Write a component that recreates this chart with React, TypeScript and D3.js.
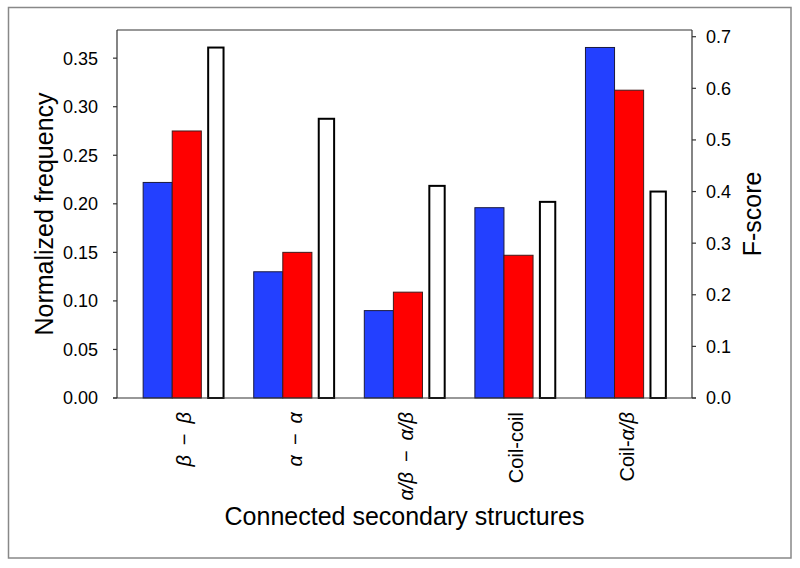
import React from "react";
import * as d3 from "d3";

const categories = ["b-b", "a-a", "ab-ab", "coil-coil", "coil-ab"];
// label pieces: [text, italic]
const categoryLabels: [string, boolean][][] = [
  [["β", true], ["\u2002−\u2002", false], ["β", true]],
  [["α", true], ["\u2002−\u2002", false], ["α", true]],
  [["α/β", true], ["\u2002−\u2002", false], ["α/β", true]],
  [["Coil-coil", false]],
  [["Coil-", false], ["α/β", true]],
];
const freqBlue = [0.222, 0.13, 0.09, 0.196, 0.361];
const freqRed = [0.275, 0.15, 0.109, 0.147, 0.317];
const fScore = [0.679, 0.541, 0.411, 0.38, 0.4];
const leftTicks = [0, 0.05, 0.1, 0.15, 0.2, 0.25, 0.3, 0.35];
const rightTicks = [0, 0.1, 0.2, 0.3, 0.4, 0.5, 0.6, 0.7];

const W = 800;
const H = 568;
const PL = 117;
const PR = 692;
const PT = 30;
const PB = 398;
const FONT = "'Liberation Sans', Arial, sans-serif";

export default function App() {
  const x = d3.scalePoint<string>().domain(categories).range([PL, PR]).padding(0.6);
  const step = x.step();
  const yL = d3.scaleLinear().domain([0, 0.379]).range([PB, PT]);
  const yR = d3.scaleLinear().domain([0, 0.713]).range([PB, PT]);
  const fmtL = d3.format(".2f");
  const fmtR = d3.format(".1f");

  const bw = step * 0.263;
  const blueX0 = -step * 0.3635;
  const redX0 = blueX0 + bw;
  const whiteW = step * 0.139;
  const whiteX0 = step * 0.3635 - whiteW;

  return (
    <svg
      width={W}
      height={H}
      style={{ position: "absolute", left: 0, top: 0, background: "#fff" }}
      fontFamily={FONT}
    >
      <rect x={8.5} y={7.5} width={782.5} height={550.5} fill="#fff" stroke="#888" strokeWidth={1.5} />

      {categories.map((c, i) => {
        const cx = x(c)!;
        return (
          <g key={c}>
            <rect
              x={cx + blueX0}
              y={yL(freqBlue[i])}
              width={bw}
              height={PB - yL(freqBlue[i])}
              fill="#2340ff"
              stroke="#1a1a40"
              strokeWidth={1}
            />
            <rect
              x={cx + redX0}
              y={yL(freqRed[i])}
              width={bw}
              height={PB - yL(freqRed[i])}
              fill="#ff0000"
              stroke="#401a1a"
              strokeWidth={1}
            />
            <rect
              x={cx + whiteX0}
              y={yR(fScore[i])}
              width={whiteW}
              height={PB - yR(fScore[i])}
              fill="#fff"
              stroke="#000"
              strokeWidth={2}
            />
          </g>
        );
      })}

      <line x1={PL} x2={PR} y1={PT} y2={PT} stroke="#333" strokeWidth={1.2} />
      <line x1={PL} x2={PL} y1={PT} y2={PB} stroke="#333" strokeWidth={1.2} />
      <line x1={PR} x2={PR} y1={PT} y2={PB} stroke="#333" strokeWidth={1.2} />
      <line x1={PL - 4} x2={PR + 4} y1={PB} y2={PB} stroke="#333" strokeWidth={1.2} />

      {leftTicks.map((t) => (
        <g key={"l" + t}>
          <line x1={PL - 4} x2={PL} y1={yL(t)} y2={yL(t)} stroke="#333" strokeWidth={1.2} />
          <text x={PL - 19} y={yL(t)} dy="0.36em" textAnchor="end" fontSize={18} fill="#000">
            {fmtL(t)}
          </text>
        </g>
      ))}

      {rightTicks.map((t) => (
        <g key={"r" + t}>
          <line x1={PR} x2={PR + 4} y1={yR(t)} y2={yR(t)} stroke="#333" strokeWidth={1.2} />
          <text x={PR + 14} y={yR(t)} dy="0.36em" textAnchor="start" fontSize={18} fill="#000">
            {fmtR(t)}
          </text>
        </g>
      ))}

      {categories.map((c, i) => (
        <text
          key={"x" + c}
          transform={`translate(${x(c)! + 1},${PB + 14}) rotate(-90)`}
          textAnchor="end"
          dy="0.35em"
          fontSize={20}
          fill="#000"
        >
          {categoryLabels[i].map(([s, it], j) => (
            <tspan key={j} fontStyle={it ? "italic" : "normal"}>
              {s}
            </tspan>
          ))}
        </text>
      ))}

      <text
        transform={`translate(44,${(PT + PB) / 2}) rotate(-90)`}
        textAnchor="middle"
        dy="0.35em"
        fontSize={25}
        fill="#000"
      >
        Normalized frequency
      </text>
      <text
        transform={`translate(752,${(PT + PB) / 2}) rotate(-90)`}
        textAnchor="middle"
        dy="0.35em"
        fontSize={25}
        fill="#000"
      >
        F-score
      </text>
      <text x={(PL + PR) / 2} y={516} dy="0.35em" textAnchor="middle" fontSize={25} fill="#000">
        Connected secondary structures
      </text>
    </svg>
  );
}
